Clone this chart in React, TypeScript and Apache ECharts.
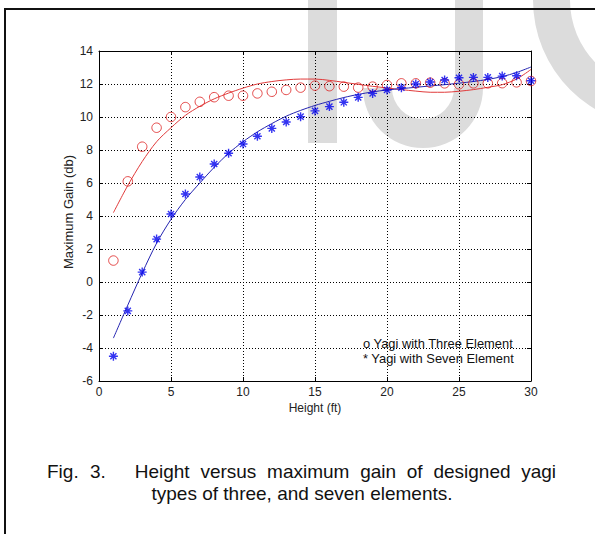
import React, { useEffect, useRef } from "react";
import * as echarts from "echarts";

// ---- data ----
const heights = [1, 2, 3, 4, 5, 6, 7, 8, 9, 10, 11, 12, 13, 14, 15, 16, 17, 18, 19, 20, 21, 22, 23, 24, 25, 26, 27, 28, 29, 30];

// measured points (o = three element, * = seven element)
const threeElementGain = [1.3, 6.1, 8.2, 9.35, 10.0, 10.6, 10.92, 11.2, 11.29, 11.29, 11.43, 11.53, 11.64, 11.78, 11.9, 11.87, 11.84, 11.78, 11.84, 11.94, 12.04, 12.04, 12.08, 12.04, 11.98, 12.04, 12.04, 12.05, 12.1, 12.18];
const sevenElementGain = [-4.5, -1.75, 0.6, 2.6, 4.12, 5.33, 6.36, 7.15, 7.8, 8.36, 8.83, 9.31, 9.7, 10.02, 10.37, 10.63, 10.89, 11.19, 11.43, 11.64, 11.78, 12.0, 12.12, 12.24, 12.38, 12.4, 12.4, 12.48, 12.5, 12.2];

// fitted curves
const threeElementFit = [4.2, 5.85, 7.3, 8.5, 9.35, 10.1, 10.65, 11.1, 11.45, 11.75, 12.0, 12.15, 12.25, 12.3, 12.3, 12.22, 12.1, 11.98, 11.86, 11.76, 11.66, 11.57, 11.5, 11.5, 11.56, 11.66, 11.8, 11.96, 12.3, 12.88];
const sevenElementFit = [-3.4, -1.4, 0.55, 2.35, 3.8, 5.0, 6.0, 6.95, 7.8, 8.5, 9.1, 9.6, 10.05, 10.4, 10.7, 10.95, 11.18, 11.37, 11.52, 11.64, 11.72, 11.8, 11.88, 11.96, 12.05, 12.15, 12.28, 12.45, 12.7, 13.03];

const legendLines = ["o Yagi with Three Element", "* Yagi with Seven Element"];
const captionLine1Words = ["Fig.", "3.", "Height", "versus", "maximum", "gain", "of", "designed", "yagi"];
const captionLine2 = "types of three, and seven elements.";
const xAxisTitle = "Height (ft)";
const yAxisTitle = "Maximum Gain (db)";

const FONT = '"Liberation Sans", Arial, Helvetica, sans-serif';
const STAR = "path://M5 0L5 10M0 5L10 5M1.6 1.6L8.4 8.4M1.6 8.4L8.4 1.6";

export default function App() {
  const ref = useRef<HTMLDivElement>(null);

  useEffect(() => {
    if (!ref.current) return;
    const chart = echarts.init(ref.current, undefined, { renderer: "svg" });

    const toPairs = (vals: number[]) => heights.map((h, i) => [h, vals[i]]);

    const axisLine = { show: true, onZero: false, lineStyle: { color: "#000", width: 1 } };
    const axisTick = { show: true, inside: true, length: 4, lineStyle: { color: "#000", width: 1 } };
    const splitLine = { show: true, lineStyle: { color: "#000", width: 1, type: [1, 2] as any } };
    const labelStyle = { fontFamily: FONT, fontSize: 12, color: "#222" };

    // caption word positions (justified line)
    const wordX = [47, 90, 134.7, 200.4, 267.1, 360.2, 406.8, 433.4, 521.2];

    const graphic: any[] = [
      // watermark
      { type: "rect", z: -10, silent: true, shape: { x: 308, y: 0, width: 29, height: 143 }, style: { fill: "#dcdcdc" } },
      { type: "rect", z: -10, silent: true, shape: { x: 455, y: 0, width: 28, height: 88 }, style: { fill: "#dcdcdc" } },
      { type: "sector", z: -10, silent: true, shape: { cx: 423, cy: 88, r0: 31, r: 60, startAngle: 0, endAngle: Math.PI, clockwise: true }, style: { fill: "#dcdcdc" } },
      { type: "sector", z: -10, silent: true, shape: { cx: 660, cy: 0, r0: 90, r: 127, startAngle: Math.PI / 2, endAngle: Math.PI, clockwise: true }, style: { fill: "#dcdcdc" } },
      // frame
      { type: "polyline", z: 5, silent: true, shape: { points: [[5, 540], [5, 9], [600, 9]] }, style: { stroke: "#111", lineWidth: 2, fill: null } },
      // axis titles
      { type: "text", z: 5, x: 315, y: 408, style: { text: xAxisTitle, font: `12px ${FONT}`, fill: "#222", align: "center", verticalAlign: "middle" } },
      { type: "text", z: 5, x: 68, y: 212, rotation: Math.PI / 2, style: { text: yAxisTitle, font: `13px ${FONT}`, fill: "#222", align: "center", verticalAlign: "middle" } },
      // legend text
      ...legendLines.map((t, i) => ({ type: "text", z: 5, x: 363, y: 343 + i * 15.6, style: { text: t, font: `12.9px ${FONT}`, fill: "#111", align: "left", verticalAlign: "middle" } })),
      // caption
      ...captionLine1Words.map((w, i) => ({ type: "text", z: 5, x: wordX[i], y: 471, style: { text: w, font: `19px ${FONT}`, fill: "#111", align: "left", verticalAlign: "middle" } })),
      { type: "text", z: 5, x: 302, y: 493, style: { text: captionLine2, font: `19px ${FONT}`, fill: "#111", align: "center", verticalAlign: "middle" } },
    ];

    chart.setOption({
      animation: false,
      backgroundColor: "#fff",
      grid: { left: 99, right: 64, top: 51, bottom: 153, containLabel: false, show: false },
      xAxis: [
        { type: "value", min: 0, max: 30, interval: 5, position: "bottom", axisLine, axisTick, splitLine, axisLabel: { ...labelStyle, margin: 5 } },
        { type: "value", min: 0, max: 30, interval: 5, position: "top", axisLine, axisTick, splitLine: { show: false }, axisLabel: { show: false } },
      ],
      yAxis: [
        { type: "value", min: -6, max: 14, interval: 2, position: "left", axisLine, axisTick, splitLine, axisLabel: { ...labelStyle, margin: 6 } },
        { type: "value", min: -6, max: 14, interval: 2, position: "right", axisLine, axisTick, splitLine: { show: false }, axisLabel: { show: false } },
      ],
      graphic,
      series: [
        { type: "line", data: toPairs(threeElementFit), symbol: "none", smooth: 0.3, lineStyle: { color: "#e03a3a", width: 1 }, z: 2 },
        { type: "line", data: toPairs(sevenElementFit), symbol: "none", smooth: 0.3, lineStyle: { color: "#2424b0", width: 1 }, z: 2 },
        { type: "scatter", data: toPairs(threeElementGain), symbol: "circle", symbolSize: 9.5, itemStyle: { color: "rgba(0,0,0,0)", borderColor: "#dd1f1f", borderWidth: 1 }, z: 3 },
        { type: "scatter", data: toPairs(sevenElementGain), symbol: STAR, symbolSize: 9, itemStyle: { color: "#0000ee", borderColor: "#0000ee", borderWidth: 1.4 }, z: 4 },
      ],
    });

    return () => chart.dispose();
  }, []);

  return <div ref={ref} style={{ position: "fixed", left: 0, top: 0, width: 595, height: 534 }} />;
}
